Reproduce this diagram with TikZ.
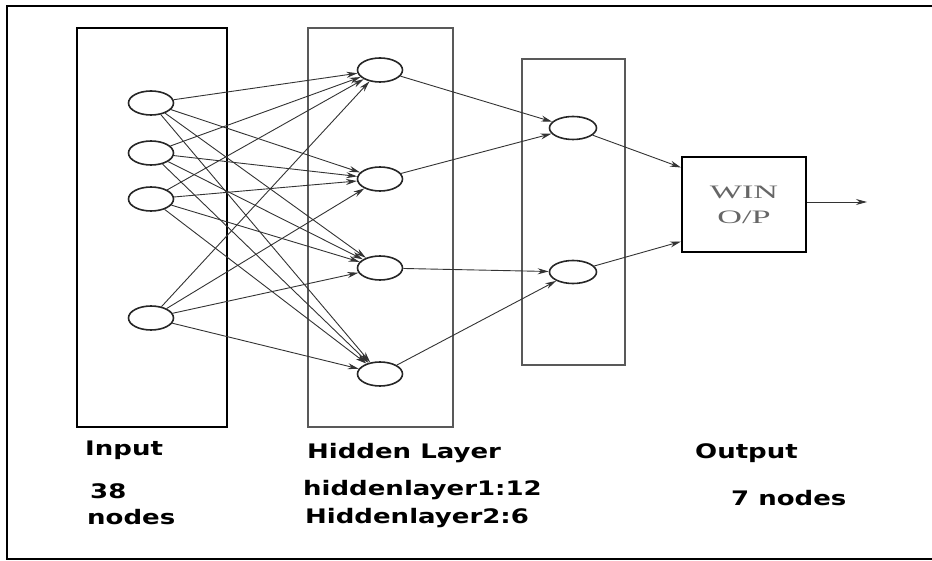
\documentclass[tikz,border=0pt]{standalone}
\usepackage{fontspec}
\usepackage{tikz}
\usetikzlibrary{shapes,arrows,positioning,calc,arrows.meta}
\newfontfamily\lblfont{DejaVu Sans}[FakeStretch=1.3]
\newfontfamily\winfont{Liberation Serif}[FakeStretch=1.8]

\begin{document}
\begin{tikzpicture}[x=1pt,y=-1pt,
    neuron/.style={draw=black!85,ellipse,line width=1.6pt,minimum width=45pt,minimum height=24pt,inner sep=0pt},
    layerbox/.style={draw,rectangle,inner sep=0pt},
    conn/.style={draw=black!80,line width=0.9pt,-{Stealth[length=11pt,width=6pt]}},
    lbl/.style={anchor=base west,inner sep=0pt,font=\lblfont\bfseries\fontsize{20}{24}\selectfont}]
    \useasboundingbox (0,0) rectangle (932,561);
    \draw[line width=2pt] (932,6) -- (7,6) -- (7,559) -- (932,559);

    % Layer boxes
    \node[layerbox,line width=2pt,minimum width=150pt,minimum height=399pt] (inbox) at (152,227.5) {};
    \node[layerbox,draw=black!65,line width=2.8pt,minimum width=145pt,minimum height=399pt] (hidbox) at (380.5,227.5) {};
    \node[layerbox,draw=black!65,line width=2.8pt,minimum width=103pt,minimum height=306pt] (secbox) at (573.5,212) {};

    % Input nodes
    \node[neuron] (i1) at (151,103) {};
    \node[neuron] (i2) at (151,153) {};
    \node[neuron] (i3) at (151,199) {};
    \node[neuron] (i4) at (151,318) {};

    % Hidden layer 1
    \node[neuron] (h1) at (380,70) {};
    \node[neuron] (h2) at (380,179) {};
    \node[neuron] (h3) at (380,268) {};
    \node[neuron] (h4) at (380,374) {};

    % Hidden layer 2
    \node[neuron,minimum width=47pt,minimum height=23pt] (s1) at (573,128) {};
    \node[neuron,minimum width=47pt,minimum height=23pt] (s2) at (573,272) {};

    % Winner box
    \node[layerbox,line width=2pt,minimum width=124pt,minimum height=95pt,align=center,
          text=black!60,font=\winfont\fontsize{19}{25}\selectfont] (win) at (744,204.5) {WIN\\O/P};
    \coordinate (out) at (867,202);

    \draw[conn] (i1) -- (h1); \draw[conn] (i1) -- (h2); \draw[conn] (i1) -- (h3); \draw[conn] (i1) -- (h4);
    \draw[conn] (i2) -- (h1); \draw[conn] (i2) -- (h2); \draw[conn] (i2) -- (h3); \draw[conn] (i2) -- (h4);
    \draw[conn] (i3) -- (h1); \draw[conn] (i3) -- (h2); \draw[conn] (i3) -- (h3); \draw[conn] (i3) -- (h4);
    \draw[conn] (i4) -- (h1); \draw[conn] (i4) -- (h2); \draw[conn] (i4) -- (h3); \draw[conn] (i4) -- (h4);

    \draw[conn] (h1) -- (s1);
    \draw[conn] (h2) -- (s1);
    \draw[conn] (h3) -- (s2);
    \draw[conn] (h4) -- (s2);

    \draw[conn] (s1) -- ([yshift=37pt]win.west);
    \draw[conn] (s2) -- ([yshift=-37pt]win.west);
    \draw[conn] (win.east |- out) -- (out);

    % Labels
    \node[lbl] (ttlin) at (85,455) {Input};
    \node[lbl] (ttlhid) at (307,458) {Hidden Layer};
    \node[lbl] (ttlout) at (695,458) {Output};
    \node[lbl] (numin) at (90,498) {38};
    \node[lbl] (numin2) at (87,524) {nodes};
    \node[lbl] (numhid) at (303,495) {hiddenlayer1:12};
    \node[lbl] (numhid2) at (305,523) {Hiddenlayer2:6};
    \node[lbl] (numout) at (731,505) {7 nodes};
\end{tikzpicture}
\end{document}
